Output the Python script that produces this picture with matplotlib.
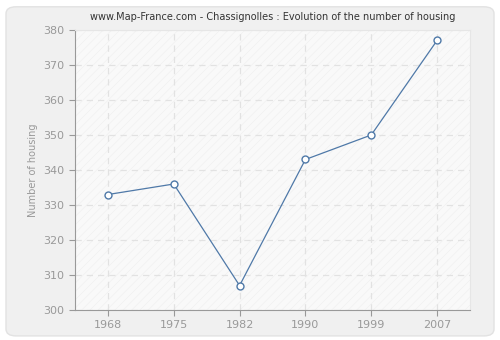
import matplotlib
matplotlib.use("Agg")
import matplotlib.pyplot as plt
from matplotlib.patches import FancyBboxPatch

years = ["1968", "1975", "1982", "1990", "1999", "2007"]
housing = [333, 336, 307, 343, 350, 377]
yticks = [300, 310, 320, 330, 340, 350, 360, 370, 380]

plt.rcParams['font.family'] = ['DejaVu Sans']
plt.rcParams['hatch.linewidth'] = 0.4
fig = plt.figure(figsize=(5, 3.4), dpi=100)
fig.patch.set_facecolor("#ffffff")
bg = FancyBboxPatch((0.012, 0.012), 0.976, 0.968, boxstyle="round,pad=0,rounding_size=0.02",
                    transform=fig.transFigure, facecolor="#f0f0f0", edgecolor="#e2e2e2",
                    linewidth=1.0, zorder=-10)
fig.patches.append(bg)

ax = fig.add_axes([0.15, 0.088, 0.79, 0.824])
ax.set_facecolor("#f9f9f9")
ax.patch.set_hatch("////")
ax.patch.set_edgecolor("#efefef")

x = list(range(len(years)))
ax.plot(x, housing, color="#4f79a8", linewidth=0.9, marker="o", markersize=5,
        markerfacecolor="white", markeredgecolor="#4f79a8", markeredgewidth=1.0, zorder=3)

ax.set_xlim(-0.5, len(years) - 0.5)
ax.set_ylim(300, 380)
ax.set_xticks(x)
ax.set_xticklabels(years)
ax.set_yticks(yticks)
ax.grid(True, color="#e2e2e2", linestyle=(0, (5, 4)), linewidth=0.9)
ax.set_axisbelow(True)

for s in ["top", "right"]:
    ax.spines[s].set_color("#e6e6e6")
for s in ["left", "bottom"]:
    ax.spines[s].set_color("#999999")
ax.tick_params(colors="#999999", labelsize=8, length=4, labelcolor="#999999")
ax.set_ylabel("Number of housing", color="#999999", fontsize=7)
ax.set_title("www.Map-France.com - Chassignolles : Evolution of the number of housing",
             fontsize=7, color="#333333", pad=7)

fig.savefig("out.png", dpi=100, facecolor=fig.get_facecolor())
